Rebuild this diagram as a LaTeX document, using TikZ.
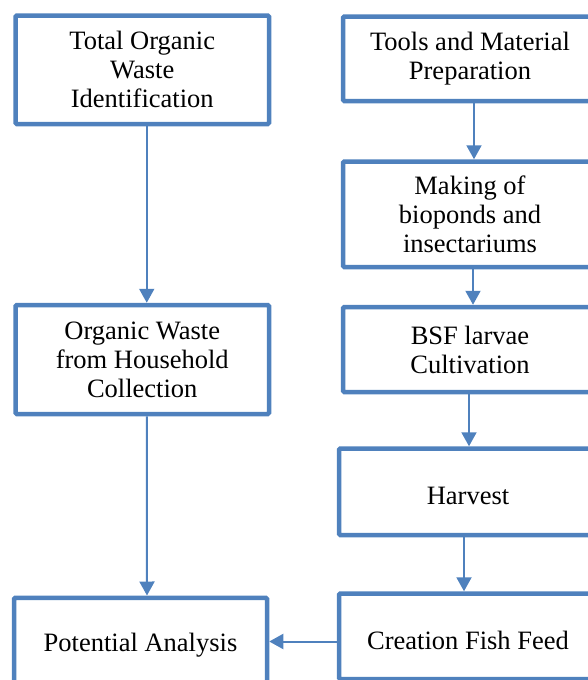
\documentclass[tikz,border=0pt]{standalone}
\usepackage{fontspec}
\setmainfont{Liberation Serif}
\usetikzlibrary{arrows.meta}
\definecolor{boxblue}{HTML}{4F81BD}
\tikzset{
  box/.style={draw=boxblue, line width=4.5pt, rounded corners=1.2pt, fill=white,
    align=center, inner sep=0pt, font=\fontsize{26.5}{29}\selectfont, text=black,
    execute at begin node={\rule{0pt}{26pt}}},
  arr/.style={draw=boxblue, line width=2pt, -{Triangle[width=15pt,length=14pt]}}
}
\begin{document}
\begin{tikzpicture}[x=1pt,y=-1pt]
\useasboundingbox (0,0) rectangle (588,680);
\clip (0,0) rectangle (588,680);
% left column
\node[box, minimum width=253.5pt, minimum height=108.5pt] (b1) at (142.25,69.75) {Total Organic\\Waste\\Identification};
\node[box, minimum width=253.5pt, minimum height=109pt] (b2) at (142.25,359.5) {Organic Waste\\from Household\\Collection};
\node[box, minimum width=253pt, minimum height=87.5pt] (b3) at (140.5,641.5) {Potential Analysis};
% right column
\node[box, minimum width=254pt, minimum height=84.5pt] (r1) at (470,58.75) {Tools and Material\\Preparation};
\node[box, minimum width=254pt, minimum height=105.5pt] (r2) at (470,214.25) {Making of\\bioponds and\\insectariums};
\node[box, minimum width=254pt, minimum height=85pt] (r3) at (470,349.5) {BSF larvae\\Cultivation};
\node[box, minimum width=258pt, minimum height=86.5pt] (r4) at (468,491.75) {Harvest};
\node[box, minimum width=258pt, minimum height=85.5pt] (r5) at (468,636.25) {Creation Fish Feed};
% arrows
\draw[arr] ([xshift=4.5pt]b1.south) -- ([xshift=4.5pt]b2.north);
\draw[arr] ([xshift=4.5pt]b2.south) -- ([xshift=6.5pt]b3.north);
\draw[arr] ([xshift=4pt]r1.south) -- ([xshift=4pt]r2.north);
\draw[arr] ([xshift=3pt]r2.south) -- ([xshift=3pt]r3.north);
\draw[arr] ([xshift=-1pt]r3.south) -- ([xshift=1pt]r4.north);
\draw[arr] ([xshift=-4pt]r4.south) -- ([xshift=-4pt]r5.north);
\draw[arr] (b3.east -| r5.west) -- (b3.east);
\end{tikzpicture}
\end{document}
